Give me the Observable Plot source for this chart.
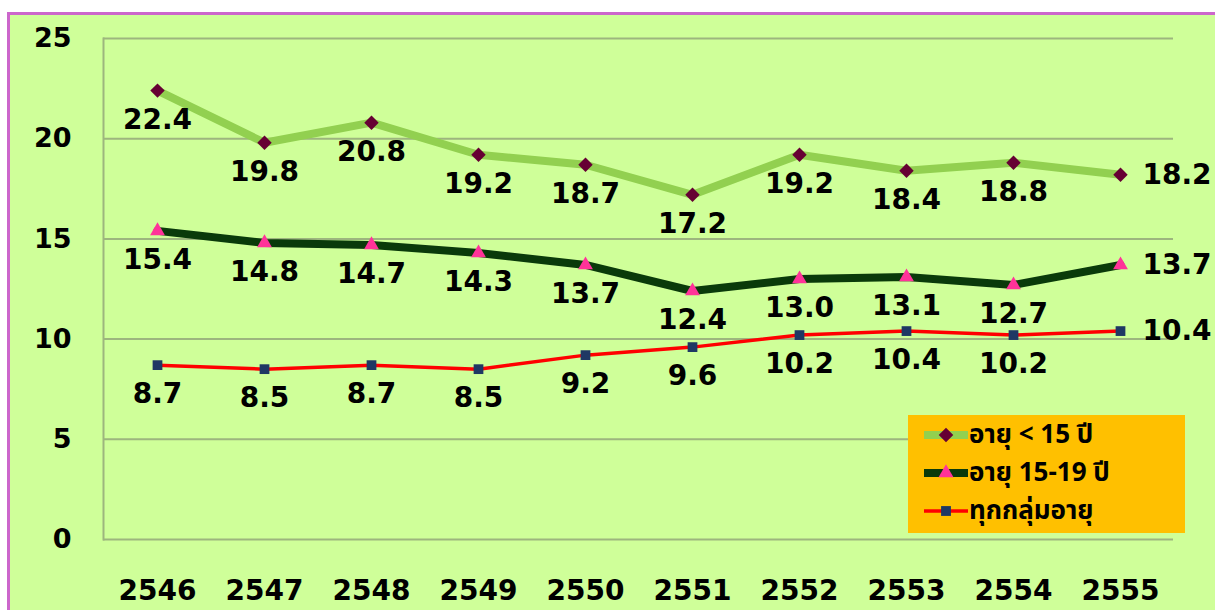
<!DOCTYPE html>
<html>
<head>
<meta charset="utf-8">
<script src="https://cdn.jsdelivr.net/npm/d3@7"></script>
<script src="https://cdn.jsdelivr.net/npm/@observablehq/plot@0.6"></script>
<style>
  html, body { margin: 0; padding: 0; background: #ffffff; }
  #wrap { position: relative; width: 1215px; height: 610px; overflow: hidden; }
  #bg { position: absolute; left: 7px; top: 12px; width: 1220px; height: 620px;
        background: #CFFF99; border: 3px solid #CC66CC; box-sizing: border-box; }
  #chart { position: absolute; left: 0; top: 0; }
  #legend { position: absolute; left: 908px; top: 415px; width: 277px; height: 118px;
            background: #FFC000; font-family: "Noto Sans Thai", Tahoma, "DejaVu Sans", "Noto Sans", sans-serif;
            font-weight: bold; font-size: 26px; color: #000; }
  .row { position: absolute; left: 16px; height: 34px; display: flex; align-items: center; }
  .row svg { margin-right: 1px; flex: none; }
  .row span { display: inline-block; height: 34px; line-height: 34px; overflow: visible; white-space: nowrap; }
</style>
</head>
<body>
<div id="wrap">
  <div id="bg"></div>
  <div id="chart"></div>
  <div id="legend"></div>
</div>
<script>
const years = ["2546","2547","2548","2549","2550","2551","2552","2553","2554","2555"];
const under15 = [22.4, 19.8, 20.8, 19.2, 18.7, 17.2, 19.2, 18.4, 18.8, 18.2];
const age15to19 = [15.4, 14.8, 14.7, 14.3, 13.7, 12.4, 13.0, 13.1, 12.7, 13.7];
const allAges = [8.7, 8.5, 8.7, 8.5, 9.2, 9.6, 10.2, 10.4, 10.2, 10.4];
const seriesNames = ["อายุ < 15 ปี", "อายุ 15-19 ปี", "ทุกกลุ่มอายุ"];
const yTicks = [0, 5, 10, 15, 20, 25];

const styles = [
  {line: "#92D050", width: 8, symbol: "diamond2", fill: "#660033", r: 6.5},
  {line: "#0A3A0A", width: 8, symbol: "triangle", fill: "#FF3399", r: 5.5},
  {line: "#FF0000", width: 3.5, symbol: "square", fill: "#1F3864", r: 5.5}
];

const allSeries = [under15, age15to19, allAges];
const data = allSeries.flatMap((vals, s) => vals.map((v, i) => ({year: years[i], value: v, series: s, last: i === years.length - 1})));

const font = "'DejaVu Sans', Verdana, sans-serif";
const marks = [
  Plot.ruleY(yTicks, {stroke: "#9DB57E", strokeWidth: 2}),
  Plot.frame({anchor: "left", stroke: "#9DB57E", strokeWidth: 2}),
  Plot.axisY({ticks: yTicks, tickSize: 0, tickPadding: 32, fontSize: 27, fontWeight: "bold", fill: "#000", label: null}),
  Plot.axisX({tickSize: 0, tickPadding: 41, fontSize: 28, fontWeight: "bold", fill: "#000", label: null})
];
styles.forEach((st, s) => {
  const d = data.filter(p => p.series === s);
  marks.push(Plot.line(d, {x: "year", y: "value", stroke: st.line, strokeWidth: st.width, strokeLinejoin: "round"}));
  marks.push(Plot.dot(d, {x: "year", y: "value", symbol: st.symbol, fill: st.fill, stroke: "none", r: st.r}));
  marks.push(Plot.text(d.filter(p => !p.last), {x: "year", y: "value", text: p => p.value.toFixed(1), dy: 29,
    fontSize: 28, fontWeight: "bold", fill: "#000", fontFamily: font}));
  marks.push(Plot.text(d.filter(p => p.last), {x: "year", y: "value", text: p => p.value.toFixed(1), dx: 22, textAnchor: "start",
    fontSize: 28, fontWeight: "bold", fill: "#000", fontFamily: font}));
});

const chart = Plot.plot({
  width: 1215, height: 610,
  marginLeft: 103, marginRight: 42, marginTop: 38, marginBottom: 71,
  style: {background: "transparent", fontFamily: font},
  x: {type: "point", domain: years, padding: 0.5},
  y: {domain: [0, 25]},
  marks
});
document.getElementById("chart").append(chart);

// legend
const legend = document.getElementById("legend");
const tops = [3, 41, 79];
styles.forEach((st, s) => {
  const row = document.createElement("div");
  row.className = "row";
  row.style.top = tops[s] + "px";
  const sw = d3.create("svg").attr("width", 44).attr("height", 20);
  sw.append("line").attr("x1", 0).attr("x2", 44).attr("y1", 10).attr("y2", 10)
    .attr("stroke", st.line).attr("stroke-width", st.width);
  const sym = {diamond2: d3.symbolDiamond2, triangle: d3.symbolTriangle, square: d3.symbolSquare}[st.symbol];
  sw.append("path").attr("d", d3.symbol(sym, st.r * st.r * 3.2)()).attr("transform", "translate(22,10)").attr("fill", st.fill);
  row.append(sw.node());
  const t = document.createElement("span");
  t.textContent = seriesNames[s];
  row.append(t);
  legend.append(row);
});
</script>
</body>
</html>
